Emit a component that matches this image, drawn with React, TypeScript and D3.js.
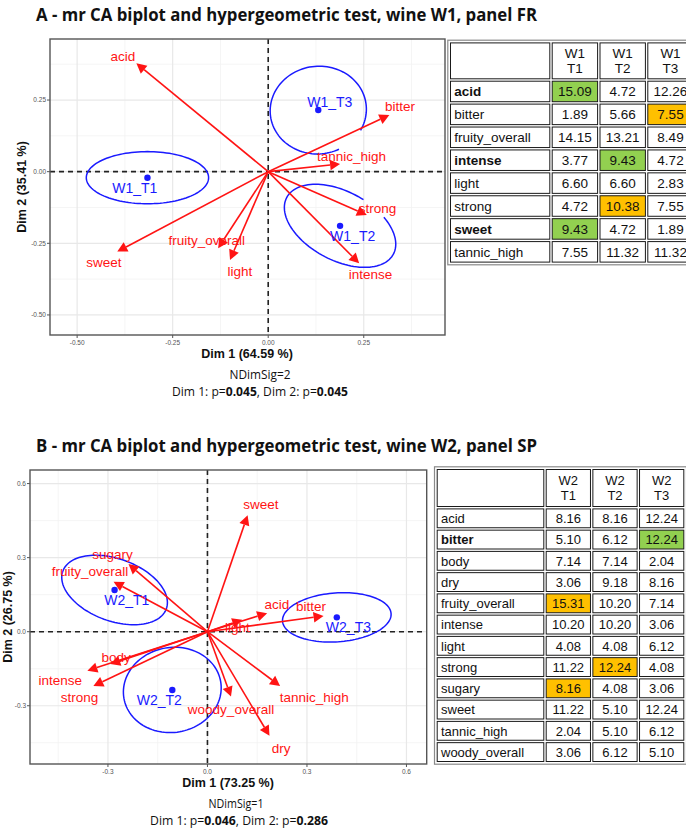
import * as d3 from 'd3';

// ---- panel A (wine W1, panel FR) ----
const aVars = ['acid', 'bitter', 'fruity_overall', 'intense', 'light', 'strong', 'sweet', 'tannic_high'];
const aDim1 = [-0.345, 0.317, -0.131, 0.238, -0.1, 0.258, -0.395, 0.188];
const aDim2 = [0.378, 0.198, -0.267, -0.32, -0.308, -0.151, -0.279, 0.027];
const aLabDim1 = [-0.38, 0.345, -0.161, 0.268, -0.074, 0.286, -0.43, 0.218];
const aLabDim2 = [0.404, 0.227, -0.241, -0.357, -0.349, -0.128, -0.316, 0.052];
const aTreat = ['W1_T1', 'W1_T2', 'W1_T3'];
const aTreatDim1 = [-0.316, 0.188, 0.131];
const aTreatDim2 = [-0.021, -0.189, 0.215];
const aTreatLab1 = [-0.349, 0.221, 0.161];
const aTreatLab2 = [-0.056, -0.224, 0.244];
const aEllRx = [0.16, 0.158, 0.126];
const aEllRy = [0.091, 0.12, 0.153];
const aEllTilt = [0, 28, -6];
const aEllGap = [[0, 0], [-80, -55], [35, 70]];
const aTicks = [-0.5, -0.25, 0, 0.25];

// ---- panel B (wine W2, panel SP) ----
const bVars = ['sweet', 'sugary', 'fruity_overall', 'acid', 'light', 'bitter', 'tannic_high', 'dry', 'woody_overall', 'body', 'intense', 'strong'];
const bDim1 = [0.121, -0.238, -0.283, 0.18, 0.105, 0.35, 0.219, 0.187, 0.071, -0.293, -0.362, -0.344];
const bDim2 = [0.472, 0.274, 0.202, 0.075, 0.048, 0.064, -0.22, -0.422, -0.263, -0.131, -0.158, -0.22];
const bLabDim1 = [0.161, -0.286, -0.354, 0.209, 0.09, 0.312, 0.322, 0.222, 0.071, -0.275, -0.444, -0.386];
const bLabDim2 = [0.516, 0.313, 0.243, 0.111, 0.016, 0.101, -0.266, -0.472, -0.314, -0.104, -0.198, -0.266];
const bTreat = ['W2_T1', 'W2_T2', 'W2_T3'];
const bTreatDim1 = [-0.28, -0.106, 0.39];
const bTreatDim2 = [0.169, -0.236, 0.058];
const bTreatLab1 = [-0.243, -0.145, 0.425];
const bTreatLab2 = [0.128, -0.277, 0.02];
const bEllRx = [0.166, 0.148, 0.164];
const bEllRy = [0.126, 0.172, 0.099];
const bEllTilt = [20, -10, -4];
const bEllGap = [[0, 0], [0, 0], [0, 0]];
const bTicks = [-0.3, 0, 0.3, 0.6];

// ---- tables ----
const tabACols = [['W1', 'T1'], ['W1', 'T2'], ['W1', 'T3']];
const tabARows = aVars;
const tabAT1 = ['15.09', '1.89', '14.15', '3.77', '6.60', '4.72', '9.43', '7.55'];
const tabAT2 = ['4.72', '5.66', '13.21', '9.43', '6.60', '10.38', '4.72', '11.32'];
const tabAT3 = ['12.26', '7.55', '8.49', '4.72', '2.83', '7.55', '1.89', '11.32'];
const tabAHigh = [['acid', 0, 'g'], ['bitter', 2, 'o'], ['intense', 1, 'g'], ['strong', 1, 'o'], ['sweet', 0, 'g']];
const tabABold = ['acid', 'intense', 'sweet'];

const tabBCols = [['W2', 'T1'], ['W2', 'T2'], ['W2', 'T3']];
const tabBRows = ['acid', 'bitter', 'body', 'dry', 'fruity_overall', 'intense', 'light', 'strong', 'sugary', 'sweet', 'tannic_high', 'woody_overall'];
const tabBT1 = ['8.16', '5.10', '7.14', '3.06', '15.31', '10.20', '4.08', '11.22', '8.16', '11.22', '2.04', '3.06'];
const tabBT2 = ['8.16', '6.12', '7.14', '9.18', '10.20', '10.20', '4.08', '12.24', '4.08', '5.10', '5.10', '6.12'];
const tabBT3 = ['12.24', '12.24', '2.04', '8.16', '7.14', '3.06', '6.12', '4.08', '3.06', '12.24', '6.12', '5.10'];
const tabBHigh = [['bitter', 2, 'g'], ['fruity_overall', 0, 'o'], ['strong', 1, 'o'], ['sugary', 0, 'o']];
const tabBBold = ['bitter'];

const RED = '#ff1414';
const BLUE = '#1a1aff';
const FILLS: Record<string, string> = { g: '#92d050', o: '#ffc000' };

function ellipsePath(cx: number, cy: number, rx: number, ry: number, tilt: number, gap: number[]) {
  const th = (tilt * Math.PI) / 180;
  const start = gap[1];
  const end = gap[0] + 360;
  const pts: [number, number][] = d3.range(start, end + 0.1, 3).map((deg) => {
    const t = (deg * Math.PI) / 180;
    const ex = rx * Math.cos(t);
    const ey = ry * Math.sin(t);
    return [cx + ex * Math.cos(th) - ey * Math.sin(th), cy + ex * Math.sin(th) + ey * Math.cos(th)];
  });
  return d3.line()(pts) || '';
}

function Biplot(p: any) {
  const x = d3.scaleLinear().domain(p.xDom).range([p.left, p.right]);
  const y = d3.scaleLinear().domain(p.yDom).range([p.bottom, p.top]);
  const kx = (p.right - p.left) / (p.xDom[1] - p.xDom[0]);
  const ky = (p.bottom - p.top) / (p.yDom[1] - p.yDom[0]);
  const step = p.ticks[1] - p.ticks[0];
  const minor = d3.range(p.ticks[0] - step * 1.5, p.ticks[p.ticks.length - 1] + step, step);
  const fmt = (v: number) => d3.format(p.fmt)(v).replace('\u2212', '-');
  const inX = (v: number) => v >= p.xDom[0] && v <= p.xDom[1];
  const inY = (v: number) => v >= p.yDom[0] && v <= p.yDom[1];
  const ox = x(0);
  const oy = y(0);

  return (
    <g>
      <rect x={p.left} y={p.top} width={p.right - p.left} height={p.bottom - p.top} fill="#fff" />
      {minor.filter(inX).map((v: number) => (
        <line key={'mx' + v} x1={x(v)} x2={x(v)} y1={p.top} y2={p.bottom} stroke="#f2f2f2" strokeWidth={0.8} />
      ))}
      {minor.filter(inY).map((v: number) => (
        <line key={'my' + v} y1={y(v)} y2={y(v)} x1={p.left} x2={p.right} stroke="#f2f2f2" strokeWidth={0.8} />
      ))}
      {p.ticks.filter(inX).map((v: number) => (
        <line key={'gx' + v} x1={x(v)} x2={x(v)} y1={p.top} y2={p.bottom} stroke="#e8e8e8" strokeWidth={1.2} />
      ))}
      {p.ticks.filter(inY).map((v: number) => (
        <line key={'gy' + v} y1={y(v)} y2={y(v)} x1={p.left} x2={p.right} stroke="#e8e8e8" strokeWidth={1.2} />
      ))}
      <line x1={ox} x2={ox} y1={p.top} y2={p.bottom} stroke="#222" strokeWidth={1.6} strokeDasharray="5,4" />
      <line y1={oy} y2={oy} x1={p.left} x2={p.right} stroke="#222" strokeWidth={1.6} strokeDasharray="5,4" />
      <rect x={p.left} y={p.top} width={p.right - p.left} height={p.bottom - p.top} fill="none" stroke="#555" strokeWidth={1.4} />
      {p.ticks.filter(inX).map((v: number) => (
        <g key={'tx' + v}>
          <line x1={x(v)} x2={x(v)} y1={p.bottom} y2={p.bottom + 3} stroke="#555" />
          <text x={x(v)} y={p.bottom + 10} fontSize={6.5} fill="#555" textAnchor="middle" fontFamily="Liberation Sans, Arial">{fmt(v)}</text>
        </g>
      ))}
      {p.ticks.filter(inY).map((v: number) => (
        <g key={'ty' + v}>
          <line y1={y(v)} y2={y(v)} x1={p.left} x2={p.left - 3} stroke="#555" />
          <text x={p.left - 4} y={y(v)} dy="0.35em" fontSize={6.5} fill="#555" textAnchor="end" fontFamily="Liberation Sans, Arial">{fmt(v)}</text>
        </g>
      ))}
      {p.treat.map((t: string, i: number) => (
        <path key={'el' + t} d={ellipsePath(x(p.t1[i]), y(p.t2[i]), p.rx[i] * kx, p.ry[i] * ky, p.tilt[i], p.gap[i])} fill="none" stroke={BLUE} strokeWidth={1.5} />
      ))}
      {p.vars.map((v: string, i: number) => {
        const tx = x(p.v1[i]);
        const ty = y(p.v2[i]);
        const a = Math.atan2(ty - oy, tx - ox);
        const L = 10;
        const W = 5.2;
        const bx = tx - L * Math.cos(a);
        const by = ty - L * Math.sin(a);
        const head = [
          [tx, ty],
          [bx - W * Math.sin(a), by + W * Math.cos(a)],
          [bx + W * Math.sin(a), by - W * Math.cos(a)],
        ].map((q) => q.join(',')).join(' ');
        return (
          <g key={'ar' + v}>
            <line x1={ox} y1={oy} x2={bx} y2={by} stroke={RED} strokeWidth={1.6} />
            <polygon points={head} fill={RED} />
          </g>
        );
      })}
      {p.vars.map((v: string, i: number) => (
        <text key={'lb' + v} x={x(p.l1[i])} y={y(p.l2[i])} dy="0.35em" textAnchor="middle" fontSize={13.5} fill={RED} fontFamily="Liberation Sans, Arial">{v}</text>
      ))}
      {p.treat.map((t: string, i: number) => (
        <g key={'pt' + t}>
          <circle cx={x(p.t1[i])} cy={y(p.t2[i])} r={3.2} fill={BLUE} />
          <text x={x(p.tl1[i])} y={y(p.tl2[i])} dy="0.35em" textAnchor="middle" fontSize={14} fill={BLUE} fontFamily="Liberation Sans, Arial">{t}</text>
        </g>
      ))}
      <text x={p.xTitleX} y={p.xTitleY} textAnchor="middle" fontSize={12.5} fontWeight="bold" fill="#111" fontFamily="Liberation Sans, Arial">{p.xTitle}</text>
      <text transform={`translate(${p.yTitleX},${p.yTitleY}) rotate(-90)`} textAnchor="middle" fontSize={12.5} fontWeight="bold" fill="#111" fontFamily="Liberation Sans, Arial">{p.yTitle}</text>
      <text x={p.sigX} y={p.sigY} textAnchor="middle" fontSize={12} fill="#111" fontFamily="Open Sans" textLength={p.sigW1} lengthAdjust="spacingAndGlyphs">{p.sig}</text>
      <text x={p.sigX2} y={p.sigY + 16.5} textAnchor="middle" fontSize={12} fill="#111" fontFamily="Open Sans" textLength={p.sigW2} lengthAdjust="spacingAndGlyphs">
        Dim 1: p=<tspan fontWeight="bold">{p.p1}</tspan>, Dim 2: p=<tspan fontWeight="bold">{p.p2}</tspan>
      </text>
    </g>
  );
}

function Table(p: any) {
  const cols = d3.scaleBand<number>().domain([0, 1, 2]).range([p.labelRight, p.right]);
  const rows = d3.scaleBand<string>().domain(p.rows).range([p.headBottom, p.bottom]);
  const vals = [p.c1, p.c2, p.c3];
  const fillOf = (r: string, c: number) => {
    const h = p.high.find((d: any) => d[0] === r && d[1] === c);
    return h ? FILLS[h[2]] : '#fff';
  };
  const cell = (key: string, x0: number, y0: number, w: number, h: number, fill: string) => (
    <rect key={key} x={x0 + 1.2} y={y0 + 1.2} width={w - 2.4} height={h - 2.4} fill={fill} stroke="#1a1a1a" strokeWidth={1} />
  );
  return (
    <g fontFamily="Liberation Sans, Arial" fill="#111">
      <rect x={p.left - 1.5} y={p.top - 1.5} width={p.right - p.left + 3} height={p.bottom - p.top + 3} fill="#fff" stroke="#8a8a8a" strokeWidth={1.2} />
      {cell('hl', p.left, p.top, p.labelRight - p.left, p.headBottom - p.top, '#fff')}
      {p.cols.map((c: string[], j: number) => (
        <g key={'h' + j}>
          {cell('hc' + j, cols(j)!, p.top, cols.bandwidth(), p.headBottom - p.top, '#fff')}
          <text x={cols(j)! + cols.bandwidth() / 2} y={p.top + (p.headBottom - p.top) / 2 - 3} textAnchor="middle" fontSize={p.fs}>{c[0]}</text>
          <text x={cols(j)! + cols.bandwidth() / 2} y={p.top + (p.headBottom - p.top) / 2 + p.fs - 1} textAnchor="middle" fontSize={p.fs}>{c[1]}</text>
        </g>
      ))}
      {p.rows.map((r: string, i: number) => (
        <g key={'r' + r}>
          {cell('rl' + r, p.left, rows(r)!, p.labelRight - p.left, rows.bandwidth(), '#fff')}
          <text x={p.left + 5} y={rows(r)! + rows.bandwidth() / 2} dy="0.36em" fontSize={p.fs} fontWeight={p.bold.includes(r) ? 'bold' : 'normal'}>{r}</text>
          {vals.map((col: string[], j: number) => (
            <g key={'v' + j}>
              {cell('c' + r + j, cols(j)!, rows(r)!, cols.bandwidth(), rows.bandwidth(), fillOf(r, j))}
              <text x={cols(j)! + cols.bandwidth() / 2} y={rows(r)! + rows.bandwidth() / 2} dy="0.36em" textAnchor="middle" fontSize={p.fs}>{col[i]}</text>
            </g>
          ))}
        </g>
      ))}
    </g>
  );
}

export default function App() {
  return (
    <div style={{ position: 'absolute', left: 0, top: 0 }}>
      <svg width={686} height={828} style={{ display: 'block', background: '#fff' }}>
        <text x={36} y={21} fontSize={17} fontWeight="bold" fill="#111" fontFamily="Open Sans" textLength={501} lengthAdjust="spacingAndGlyphs">
          A - mr CA biplot and hypergeometric test, wine W1, panel FR
        </text>
        <Biplot
          left={50} right={445} top={39} bottom={335}
          xDom={[-0.571, 0.4626]} yDom={[-0.57, 0.463]}
          ticks={aTicks} fmt=".2f"
          vars={aVars} v1={aDim1} v2={aDim2} l1={aLabDim1} l2={aLabDim2}
          treat={aTreat} t1={aTreatDim1} t2={aTreatDim2} tl1={aTreatLab1} tl2={aTreatLab2}
          rx={aEllRx} ry={aEllRy} tilt={aEllTilt} gap={aEllGap}
          xTitle="Dim 1 (64.59 %)" xTitleX={247} xTitleY={358}
          yTitle="Dim 2 (35.41 %)" yTitleX={26} yTitleY={187}
          sig="NDimSig=2" sigX={260} sigY={379} sigW1={61} sigX2={260} sigW2={176}
          p1="0.045" p2="0.045"
        />
        <Table
          left={449.3} labelRight={551} right={694.4} top={41.7} headBottom={80} bottom={263.3}
          rows={tabARows} cols={tabACols} c1={tabAT1} c2={tabAT2} c3={tabAT3}
          high={tabAHigh} bold={tabABold} fs={13.5}
        />

        <text x={36} y={452} fontSize={17} fontWeight="bold" fill="#111" fontFamily="Open Sans" textLength={501} lengthAdjust="spacingAndGlyphs">
          B - mr CA biplot and hypergeometric test, wine W2, panel SP
        </text>
        <Biplot
          left={30} right={426.7} top={470} bottom={764}
          xDom={[-0.535, 0.661]} yDom={[-0.536, 0.655]}
          ticks={bTicks} fmt=".1f"
          vars={bVars} v1={bDim1} v2={bDim2} l1={bLabDim1} l2={bLabDim2}
          treat={bTreat} t1={bTreatDim1} t2={bTreatDim2} tl1={bTreatLab1} tl2={bTreatLab2}
          rx={bEllRx} ry={bEllRy} tilt={bEllTilt} gap={bEllGap}
          xTitle="Dim 1 (73.25 %)" xTitleX={228} xTitleY={787}
          yTitle="Dim 2 (26.75 %)" yTitleX={11.5} yTitleY={617}
          sig="NDimSig=1" sigX={236} sigY={808} sigW1={55} sigX2={239} sigW2={178}
          p1="0.046" p2="0.286"
        />
        <Table
          left={436} labelRight={545} right={685} top={468.3} headBottom={507.7} bottom={762.7}
          rows={tabBRows} cols={tabBCols} c1={tabBT1} c2={tabBT2} c3={tabBT3}
          high={tabBHigh} bold={tabBBold} fs={13}
        />
      </svg>
    </div>
  );
}
